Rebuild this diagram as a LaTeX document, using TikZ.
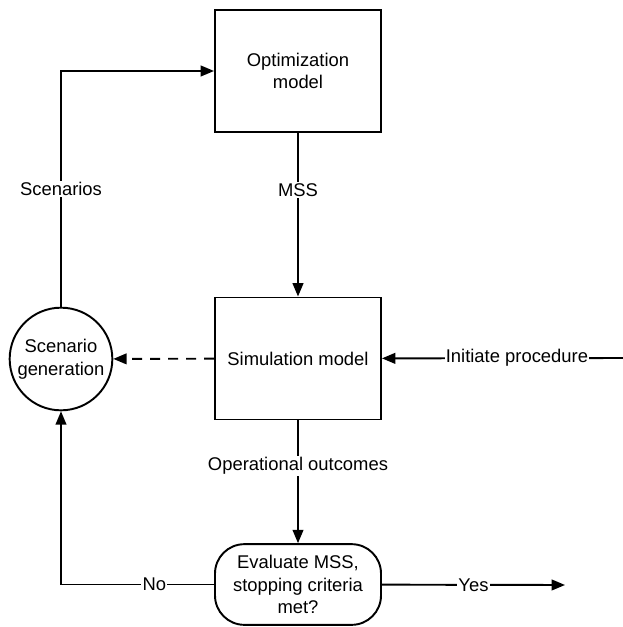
\documentclass[tikz,border=0pt]{standalone}
\usepackage{fontspec}
\setmainfont{Liberation Sans}
\usetikzlibrary{arrows.meta}

\begin{document}
\begin{tikzpicture}[x=0.75pt,y=-0.75pt,line width=1.45pt,
  font=\fontsize{13.8}{16.9}\selectfont,
  box/.style={draw,rectangle,minimum width=124.5pt,minimum height=91.5pt,align=center},
  arr/.style={-{Triangle[length=10pt,width=8pt]}},
  lbl/.style={fill=white,inner sep=1pt}]
\useasboundingbox (0,0) rectangle (623,627);
\node[box] (opt) at (298,71) {Optimization\\model};
\node[box] (sim) at (298,358.5) {Simulation model};
\node[draw,circle,minimum size=77pt,inner sep=0pt,align=center] (gen) at (61,359) {Scenario\\generation};
\node[draw,rectangle,rounded corners=22pt,minimum width=124.5pt,minimum height=60.5pt,align=center,inner sep=1pt] (eval) at (298,584.5) {Evaluate MSS,\\stopping criteria\\met?};
\coordinate (start) at (623,358);
\coordinate (done) at (565,585);
% connectors
\draw[arr] (gen.north) |- node[pos=0.25,lbl] {Scenarios} (opt.west);
\draw[arr] (opt) -- node[pos=0.35,lbl] {MSS} (sim);
\draw[arr,dashed,dash pattern=on 7.5pt off 6pt] (sim) -- (gen);
\draw[arr] (start) -- node[pos=0.44,lbl] {Initiate procedure} (sim);
\draw[arr] (sim) -- node[pos=0.37,lbl] {Operational outcomes} (eval);
\draw[arr] (eval.west) -| node[pos=0.195,lbl] {No} (gen.south);
\draw[arr] (eval) -- node[lbl] {Yes} (done);
\end{tikzpicture}
\end{document}
